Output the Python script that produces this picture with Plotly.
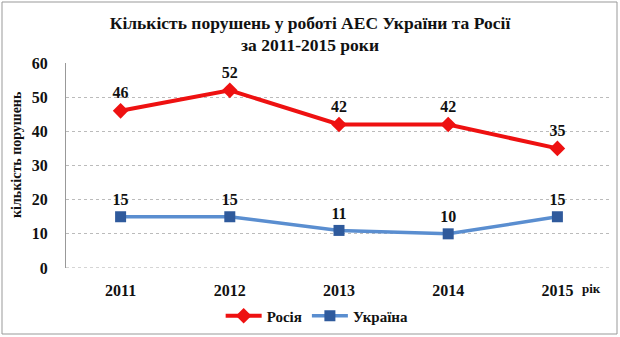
import plotly.graph_objects as go

years = ["2011", "2012", "2013", "2014", "2015"]
russia = [46, 52, 42, 42, 35]
ukraine = [15, 15, 11, 10, 15]
y_ticks = [0, 10, 20, 30, 40, 50, 60]

FONT = "Liberation Serif, Times New Roman, serif"

fig = go.Figure()
fig.add_trace(go.Scatter(
    x=years, y=russia, name="Росія", mode="lines+markers+text",
    line=dict(color="#EE1111", width=4),
    marker=dict(symbol="diamond", size=12, color="#EE1111"),
    text=[str(v) for v in russia], textposition="top center",
    textfont=dict(family=FONT, size=16, color="#111111", weight="bold"),
    cliponaxis=False,
))
fig.add_trace(go.Scatter(
    x=years, y=ukraine, name="Україна", mode="lines+markers+text",
    line=dict(color="#5A8ED0", width=3.5),
    marker=dict(symbol="square", size=11, color="#2F5A9C"),
    text=[str(v) for v in ukraine], textposition="top center",
    textfont=dict(family=FONT, size=16, color="#111111", weight="bold"),
    cliponaxis=False,
))

PW, PH = 546, 205

fig.update_layout(
    width=620, height=337,
    margin=dict(l=66, r=8, t=63, b=69, autoexpand=False),
    paper_bgcolor="white", plot_bgcolor="white",
    font=dict(family=FONT, color="#111111"),
    title=dict(
        text="<b>Кількість порушень у роботі АЕС України та Росії<br>за 2011-2015 роки</b>",
        x=0.5, xanchor="center", y=0.915, yanchor="middle",
        font=dict(family=FONT, size=17.5, color="#111111"),
    ),
    showlegend=True,
    legend=dict(
        orientation="h", x=0.46, xanchor="center", y=-48/PH, yanchor="middle",
        font=dict(family=FONT, size=15, color="#111111", weight="bold"),
        itemwidth=36, tracegroupgap=0,
    ),
    xaxis=dict(
        type="category", range=[-0.5, 4.5],
        showgrid=False, showline=False, zeroline=False,
        tickfont=dict(family=FONT, size=16, color="#111111", weight="bold"),
        ticks="", ticklabelstandoff=11,
    ),
    yaxis=dict(
        range=[0, 60], tickvals=y_ticks,
        showgrid=True, gridcolor="#BBBBBB", griddash="dot", gridwidth=1,
        showline=True, linecolor="#999999", linewidth=1,
        zeroline=False,
        tickfont=dict(family=FONT, size=16, color="#111111", weight="bold"),
        ticks="", ticklabelstandoff=14,
    ),
    shapes=[
        dict(type="line", xref="paper", yref="y", x0=0, x1=1, y0=0, y1=0,
             line=dict(color="#AAAAAA", width=1, dash="dot")),
        dict(type="rect", xref="paper", yref="paper",
             x0=-64/PW, x1=1 + 5/PW, y0=-66/PH, y1=1 + 61/PH,
             line=dict(color="#999999", width=1)),
    ],
    annotations=[
        dict(text="<b>рік</b>", xref="paper", yref="paper", x=1 - 21/PW, y=-20/PH,
             xanchor="center", yanchor="middle", showarrow=False,
             font=dict(family=FONT, size=13, color="#111111")),
        dict(text="<b>кількість порушень</b>", xref="paper", yref="paper",
             x=-50/PW, y=1 - 92/PH, xanchor="center", yanchor="middle",
             textangle=-90, showarrow=False,
             font=dict(family=FONT, size=14, color="#111111")),
    ],
)

fig.write_html("out.html")
